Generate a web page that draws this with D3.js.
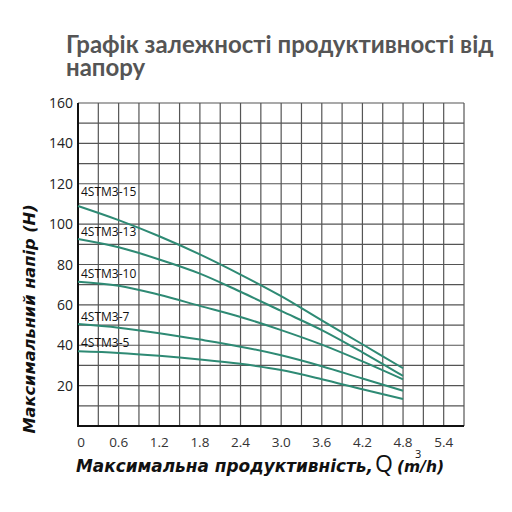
<!DOCTYPE html>
<html>
<head>
<meta charset="utf-8">
<script src="https://cdn.jsdelivr.net/npm/d3@7"></script>
<style>
  body { margin: 0; background: #fff; }
  svg { display: block; }
</style>
</head>
<body>
<svg id="chart" width="512" height="512"></svg>
<script>
// flow, m3/h
var flow = [0, 0.6, 1.2, 1.8, 2.4, 3.0, 3.6, 4.2, 4.8];

// head for each pump model
var pumpNames = ['4STM3-15', '4STM3-13', '4STM3-10', '4STM3-7', '4STM3-5'];
var head15 = [109, 102, 94, 85, 75, 64.3, 52.3, 40.5, 28.6];
var head13 = [92.6, 88.5, 82.5, 75.5, 66.5, 57, 47.5, 36.5, 24.8];
var head10 = [71.5, 69.5, 65, 59.5, 54, 47.5, 40.3, 32, 23.1];
var head7 = [50.5, 48.7, 46, 42.8, 39.3, 35, 29.6, 23.5, 17.5];
var head5 = [37, 36.2, 34.8, 33, 30.8, 27.7, 23.2, 18.2, 13.4];
// where the model name sits (in head units)
var labelHead = [114, 94, 73.5, 52, 39];

var xTicks = [0, 0.6, 1.2, 1.8, 2.4, 3.0, 3.6, 4.2, 4.8, 5.4];
var yTicks = [20, 40, 60, 80, 100, 120, 140, 160];

var series = [head15, head13, head10, head7, head5];

var svg = d3.select('#chart');
var plotLeft = 78, plotRight = 464, plotTop = 103, plotBottom = 426;

var x = d3.scaleLinear().domain([0, 5.7]).range([plotLeft, plotRight]);
var y = d3.scaleLinear().domain([0, 160]).range([plotBottom, plotTop]);

// title
var title = svg.append('text')
    .attr('font-family', 'Lato, sans-serif')
    .attr('font-weight', 'bold')
    .attr('font-size', 24)
    .attr('fill', '#555');
title.append('tspan').attr('x', 66).attr('y', 53).text('Графік залежності продуктивності від');
title.append('tspan').attr('x', 66).attr('y', 76).text('напору');

// grid
var grid = svg.append('g').attr('stroke', '#555').attr('stroke-width', 1.2);
grid.selectAll('.v')
    .data(d3.range(1, 20).map(function(i) { return i * 0.3; }))
    .enter().append('line')
    .attr('x1', function(d) { return x(d); })
    .attr('x2', function(d) { return x(d); })
    .attr('y1', y(0))
    .attr('y2', y(160));
grid.selectAll('.h')
    .data(d3.range(1, 17).map(function(i) { return i * 10; }))
    .enter().append('line')
    .attr('x1', x(0))
    .attr('x2', x(5.7))
    .attr('y1', function(d) { return y(d); })
    .attr('y2', function(d) { return y(d); });

// axes lines
svg.append('line')
    .attr('x1', x(0)).attr('x2', x(0))
    .attr('y1', y(0) + 1).attr('y2', y(160))
    .attr('stroke', '#111').attr('stroke-width', 2);
svg.append('line')
    .attr('x1', x(0)).attr('x2', x(5.7))
    .attr('y1', y(0)).attr('y2', y(0))
    .attr('stroke', '#111').attr('stroke-width', 2);

// tick labels
svg.append('g').selectAll('text')
    .data(yTicks)
    .enter().append('text')
    .attr('x', 73)
    .attr('y', function(d) { return y(d) + 5; })
    .attr('text-anchor', 'end')
    .attr('font-family', 'Open Sans, sans-serif')
    .attr('font-size', 14)
    .attr('fill', '#222')
    .text(function(d) { return d; });

svg.append('g').selectAll('text')
    .data(xTicks)
    .enter().append('text')
    .attr('x', function(d) { return d === 0 ? x(d) + 3 : x(d); })
    .attr('y', 447)
    .attr('text-anchor', 'middle')
    .attr('font-family', 'Open Sans, sans-serif')
    .attr('font-size', 13.5)
    .attr('fill', '#333')
    .text(function(d) { return d === 0 ? '0' : d.toFixed(1); });

// curves
var line = d3.line()
    .x(function(d, i) { return x(flow[i]); })
    .y(function(d) { return y(d); })
    .curve(d3.curveCatmullRom);

svg.append('g').selectAll('path')
    .data(series)
    .enter().append('path')
    .attr('d', line)
    .attr('fill', 'none')
    .attr('stroke', '#2e8a74')
    .attr('stroke-width', 2);

svg.append('g').selectAll('text')
    .data(pumpNames)
    .enter().append('text')
    .attr('x', 81)
    .attr('y', function(d, i) { return y(labelHead[i]); })
    .attr('font-family', 'Open Sans, sans-serif')
    .attr('font-size', 12)
    .attr('fill', '#111')
    .text(function(d) { return d; });

// axis titles
svg.append('text')
    .attr('transform', 'translate(35,319) rotate(-90)')
    .attr('text-anchor', 'middle')
    .attr('font-family', 'DejaVu Sans, sans-serif')
    .attr('font-weight', 'bold')
    .attr('font-style', 'italic')
    .attr('font-size', 16.2)
    .attr('fill', '#111')
    .text('Максимальний напір (Н)');

var xt = svg.append('text')
    .attr('x', 76)
    .attr('y', 472)
    .attr('font-family', 'DejaVu Sans, sans-serif')
    .attr('font-weight', 'bold')
    .attr('fill', '#111');
xt.append('tspan').attr('font-style', 'italic').attr('font-size', 16.9)
    .text('Максимальна продуктивність,');
xt.append('tspan').attr('x', 375).attr('font-size', 23).attr('font-weight', 'normal')
    .attr('font-family', 'Open Sans, sans-serif').text('Q');
xt.append('tspan').attr('x', 397).attr('font-style', 'italic').attr('font-size', 15.5)
    .text('(m/h)');
svg.append('text')
    .attr('x', 415)
    .attr('y', 458)
    .attr('font-family', 'Open Sans, sans-serif')
    .attr('font-size', 11)
    .attr('fill', '#111')
    .text('3');
</script>
</body>
</html>
